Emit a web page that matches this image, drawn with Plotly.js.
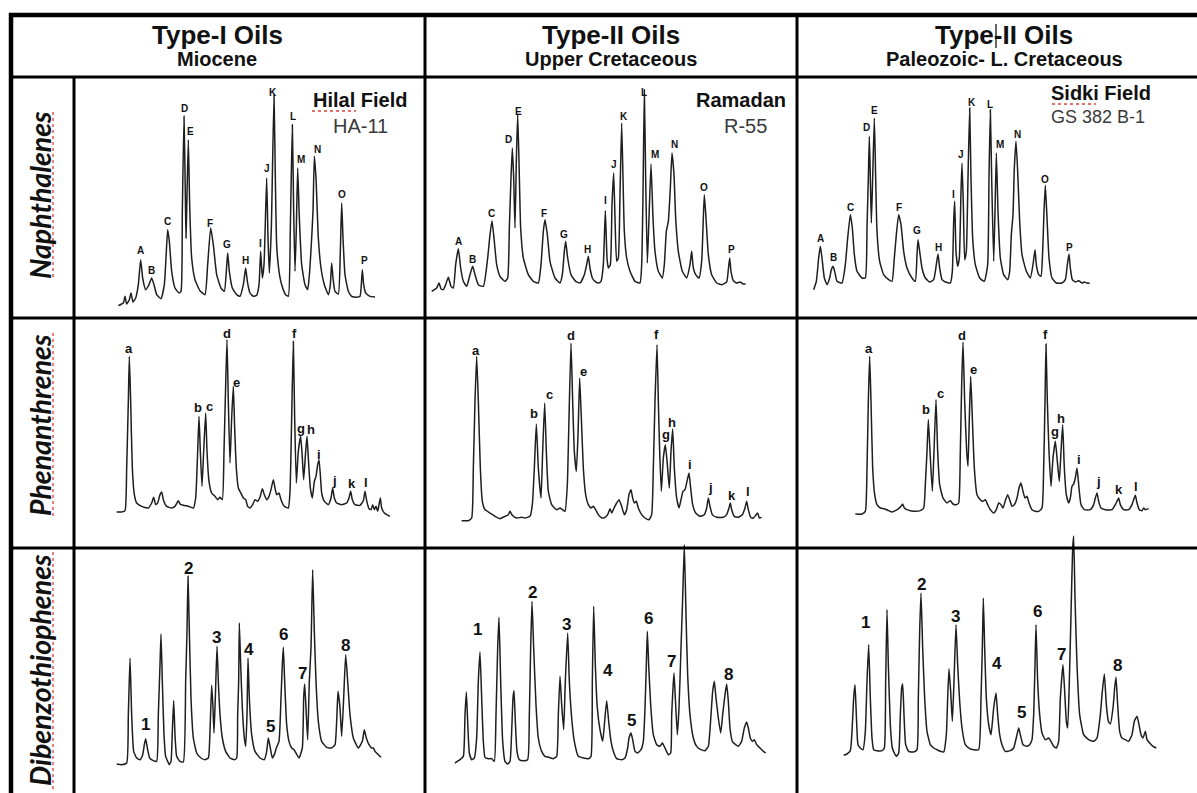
<!DOCTYPE html>
<html><head><meta charset="utf-8">
<script src="https://cdn.plot.ly/plotly-3.0.1.min.js"></script>
<style>html,body{margin:0;padding:0;background:#fff}#chart{width:1197px;height:793px}</style>
</head><body><div id="chart"></div>
<script>
// ---------- DATA (retention units, relative abundance) ----------
const colHeads = ['Type-I Oils', 'Type-II Oils', 'Type-II Oils'];
const colSubs = ['Miocene', 'Upper Cretaceous', 'Paleozoic- L. Cretaceous'];
const rowNames = ['Naphthalenes', 'Phenanthrenes', 'Dibenzothiophenes'];
const wellField = ['Hilal Field', 'Ramadan', 'Sidki Field'];
const wellName = ['HA-11', 'R-55', 'GS 382 B-1'];

const naphLabels = ['A','B','C','D','E','F','G','H','I','J','K','L','M','N','O','P'];
const phenLabels = ['a','b','c','d','e','f','g','h','i','j','k','l'];
const dbtLabels = ['1','2','3','4','5','6','7','8'];

const naph1 = [[130,7],[145,15],[150,35],[155,12],[163,25],[168,45],[174,18],[182,30],[190,70],[197,145],[203,90],[212,55],[222,70],[230,90],[237,70],[245,40],[258,28],[268,70],[274,170],[278,235],[283,200],[290,110],[300,60],[312,45],[318,50],[322,290],[327,575],[331,340],[333,210],[336,340],[340,505],[344,310],[350,150],[360,85],[375,52],[390,40],[398,130],[407,240],[415,190],[425,100],[438,60],[448,50],[454,110],[458,165],[463,110],[472,60],[485,40],[495,35],[505,70],[512,120],[517,80],[525,45],[535,35],[545,38],[552,70],[557,170],[562,90],[567,130],[575,390],[579,210],[583,105],[589,240],[597,640],[601,390],[605,190],[612,110],[620,70],[632,40],[640,35],[646,240],[652,550],[656,290],[660,110],[664,240],[668,420],[673,270],[680,130],[690,70],[698,55],[704,110],[710,210],[714,290],[718,455],[723,390],[730,210],[738,120],[748,70],[760,40],[766,70],[770,135],[774,90],[780,50],[790,42],[796,170],[800,315],[804,210],[810,100],[820,50],[830,35],[845,32],[855,35],[859,70],[862,115],[866,70],[872,45],[885,35],[900,33]];
const naph1Peaks = [[197,172],[230,112],[278,260],[327,598],[345,530],[405,255],[455,190],[512,142],[557,195],[575,420],[595,648],[655,575],[678,445],[727,477],[800,342],[868,142]];

const naph2 = [[20,10],[35,20],[42,35],[48,18],[55,15],[62,30],[70,52],[78,25],[85,20],[92,90],[100,138],[107,80],[115,40],[125,25],[135,60],[143,85],[150,60],[160,30],[175,25],[188,110],[195,180],[201,222],[207,170],[215,90],[225,55],[240,40],[248,50],[253,200],[258,350],[262,440],[266,350],[270,200],[274,400],[278,542],[282,400],[287,200],[295,110],[310,60],[325,40],[340,35],[348,90],[355,190],[360,225],[367,180],[375,100],[390,50],[405,35],[412,60],[418,130],[422,160],[428,110],[438,60],[452,40],[465,35],[478,60],[485,90],[490,115],[495,80],[502,50],[510,40],[520,35],[528,40],[535,90],[541,252],[546,110],[550,80],[556,90],[561,270],[566,365],[570,230],[575,100],[580,110],[585,300],[590,515],[594,350],[598,190],[605,110],[615,70],[630,40],[645,35],[650,90],[654,300],[658,615],[662,350],[667,95],[672,230],[678,392],[684,230],[690,130],[700,70],[712,50],[718,90],[724,190],[730,220],[736,320],[741,425],[747,360],[752,230],[760,130],[772,70],[785,50],[795,90],[800,130],[805,80],[812,60],[822,50],[830,100],[835,230],[838,300],[843,230],[850,120],[860,60],[875,35],[890,30],[905,38],[910,75],[914,110],[918,70],[925,42],[935,35],[945,38],[955,32],[962,32]];
const naph2Peaks = [[100,160],[143,105],[200,245],[250,465],[281,550],[358,245],[418,180],[487,135],[540,282],[566,392],[598,535],[657,608],[690,422],[748,450],[838,322],[918,135]];

const naph3 = [[50,5],[58,30],[65,100],[70,135],[75,100],[82,40],[90,20],[98,40],[103,65],[108,75],[113,60],[120,30],[135,25],[145,80],[152,160],[160,230],[166,190],[172,110],[180,60],[195,40],[205,40],[210,190],[214,340],[217,465],[220,340],[223,205],[227,340],[232,520],[236,340],[240,180],[248,90],[260,50],[275,35],[285,30],[292,100],[298,170],[305,230],[312,200],[320,120],[330,70],[345,40],[355,30],[360,110],[363,155],[368,120],[375,70],[385,40],[398,28],[410,35],[418,80],[423,112],[428,70],[435,35],[445,28],[460,25],[466,60],[470,210],[473,270],[477,120],[482,75],[487,100],[492,300],[495,385],[499,260],[503,95],[508,120],[513,340],[518,550],[522,340],[527,160],[535,80],[548,40],[562,30],[572,80],[576,340],[580,545],[584,340],[590,90],[594,240],[598,415],[603,240],[610,100],[620,50],[632,35],[638,60],[643,170],[648,230],[652,370],[657,450],[662,360],[668,210],[675,110],[688,60],[700,40],[708,80],[714,125],[718,80],[725,50],[732,45],[737,120],[741,240],[745,318],[750,220],[756,100],[765,40],[778,25],[795,25],[805,35],[811,80],[816,112],[820,70],[826,35],[835,28],[845,32],[855,25],[862,28],[870,25],[878,24]];
const naph3Peaks = [[70,160],[108,102],[160,252],[207,492],[232,542],[305,252],[360,182],[423,132],[470,292],[493,412],[525,568],[580,560],[610,442],[662,472],[745,335],[818,132]];

const phen1 = [[125,18],[140,18],[150,22],[155,150],[160,350],[163,485],[167,350],[172,150],[178,70],[185,45],[200,35],[220,30],[230,45],[236,62],[242,40],[248,45],[255,70],[260,78],[265,55],[275,35],[290,30],[300,35],[310,52],[315,42],[325,38],[340,35],[355,30],[362,60],[368,200],[372,305],[376,200],[381,95],[386,200],[392,315],[396,200],[402,110],[410,75],[420,65],[428,55],[435,62],[442,55],[447,200],[452,400],[456,535],[460,350],[465,165],[470,300],[475,395],[479,270],[484,150],[490,90],[500,70],[505,60],[512,55],[518,35],[525,30],[533,40],[540,55],[548,50],[555,62],[562,88],[568,70],[575,55],[582,65],[588,85],[595,115],[600,90],[605,70],[612,75],[618,55],[628,35],[640,30],[645,80],[650,300],[655,530],[659,300],[664,105],[670,200],[677,245],[682,180],[686,115],[692,200],[696,245],[700,180],[706,90],[712,60],[718,110],[723,125],[728,160],[732,175],[736,130],[740,75],[748,50],[760,40],[768,60],[773,90],[778,60],[785,45],[800,40],[815,45],[822,60],[827,80],[832,55],[840,40],[855,38],[865,52],[870,80],[875,52],[882,28],[888,25],[893,40],[898,25],[903,35],[908,20],[912,40],[916,60],[920,30],[928,15],[935,10],[945,5]];
const phen1Peaks = [[162,508],[368,332],[403,335],[457,555],[483,408],[657,555],[678,270],[707,265],[733,192],[778,113],[830,103],[872,108]];

const phen2 = [[110,12],[130,12],[140,20],[145,170],[150,370],[155,505],[160,370],[166,170],[172,70],[180,45],[195,35],[210,25],[225,18],[240,25],[250,30],[255,40],[262,28],[275,20],[290,22],[300,20],[315,25],[322,60],[328,170],[334,302],[340,170],[348,80],[353,220],[359,365],[364,220],[370,100],[380,60],[395,45],[405,50],[412,45],[420,40],[427,120],[432,320],[438,545],[443,370],[448,220],[454,160],[459,270],[464,440],[469,320],[475,170],[482,90],[490,60],[498,50],[505,55],[512,45],[520,30],[530,20],[540,22],[548,30],[555,48],[560,35],[567,50],[575,65],[582,75],[590,55],[598,30],[605,45],[612,90],[618,105],[623,80],[628,65],[634,70],[640,50],[650,30],[660,20],[672,15],[680,30],[685,170],[690,370],[696,540],[700,370],[704,220],[709,100],[715,200],[721,240],[727,180],[733,110],[738,220],[743,287],[748,170],[755,80],[762,50],[768,75],[774,100],[780,105],[786,130],[792,155],[797,110],[803,60],[812,35],[825,25],[838,30],[845,50],[850,80],[855,55],[862,30],[875,22],[895,22],[905,30],[912,50],[916,65],[920,45],[928,25],[940,22],[952,30],[960,50],[965,70],[970,45],[977,22],[985,20],[992,28],[998,35],[1003,20],[1010,22]];
const phen2Peaks = [[153,522],[328,335],[372,390],[438,568],[475,460],[695,572],[722,270],[742,308],[795,180],[855,112],[920,87],[970,100]];

const phen3 = [[175,12],[195,12],[205,20],[210,150],[214,350],[218,485],[222,350],[227,150],[233,70],[240,40],[250,30],[262,28],[275,22],[285,18],[295,22],[305,28],[312,35],[317,42],[322,30],[330,25],[340,22],[355,20],[370,22],[380,30],[385,100],[390,200],[394,295],[399,200],[406,80],[411,200],[417,355],[422,200],[428,100],[438,60],[450,45],[460,52],[468,42],[478,40],[485,45],[490,200],[494,400],[498,528],[503,350],[509,200],[513,155],[517,300],[521,425],[526,300],[532,150],[540,70],[550,55],[558,50],[565,55],[572,40],[580,25],[590,15],[598,25],[605,45],[612,40],[618,30],[625,52],[632,70],[638,55],[645,35],[652,40],[660,60],[666,90],[672,105],[678,80],[684,60],[690,65],[696,45],[705,25],[715,20],[725,20],[735,30],[740,150],[744,350],[747,522],[751,350],[756,200],[762,95],[768,180],[775,230],[781,170],[787,110],[792,200],[797,280],[802,150],[808,70],[815,45],[820,60],[825,95],[830,102],[835,120],[840,150],[846,90],[852,40],[862,25],[880,25],[890,40],[895,60],[900,75],[905,50],[912,30],[925,25],[945,25],[955,40],[960,50],[965,60],[970,40],[980,25],[995,25],[1005,40],[1010,55],[1015,68],[1020,45],[1027,25],[1035,22],[1040,30],[1045,25],[1055,28]];
const phen3Peaks = [[215,508],[387,325],[430,375],[495,548],[530,445],[745,550],[775,260],[792,300],[845,175],[903,110],[967,85],[1017,95]];

const dbt1 = [[125,12],[140,10],[155,15],[160,160],[165,330],[170,160],[176,50],[185,30],[195,25],[203,40],[208,70],[212,88],[217,60],[224,30],[235,22],[245,20],[250,160],[255,310],[258,402],[262,260],[267,100],[272,35],[278,20],[283,10],[288,20],[292,110],[296,202],[300,100],[305,35],[315,20],[325,18],[332,260],[336,410],[339,575],[343,410],[348,210],[355,90],[365,45],[378,30],[390,25],[400,30],[405,110],[410,248],[414,180],[417,105],[421,210],[426,365],[430,260],[435,160],[442,90],[452,50],[465,30],[478,25],[485,30],[488,160],[491,260],[493,435],[497,310],[502,180],[508,90],[512,65],[516,160],[519,330],[523,210],[530,100],[540,50],[555,30],[568,25],[575,50],[580,90],[586,60],[592,30],[598,40],[604,60],[612,80],[618,210],[622,310],[625,362],[629,260],[635,130],[642,80],[650,60],[657,55],[663,45],[672,30],[682,60],[686,210],[689,252],[693,180],[698,85],[703,260],[708,360],[713,595],[718,410],[723,260],[730,140],[740,80],[755,62],[770,60],[780,70],[785,140],[789,230],[795,180],[800,95],[806,210],[812,340],[818,260],[825,160],[835,90],[850,60],[862,80],[868,115],[874,90],[882,70],[890,60],[895,60],[900,50],[910,40],[918,32]];
const dbt1Peaks = [[210,130],[340,598],[425,392],[522,355],[585,125],[625,402],[683,285],[812,368]];

const dbt2 = [[90,15],[105,25],[115,35],[120,160],[124,228],[128,140],[133,45],[140,25],[148,30],[155,90],[160,260],[165,348],[170,210],[175,80],[180,32],[190,28],[200,28],[208,20],[213,160],[218,360],[222,452],[227,260],[233,80],[240,20],[248,12],[255,20],[260,110],[264,210],[267,232],[271,140],[276,50],[283,25],[295,22],[308,25],[313,160],[317,360],[321,500],[326,360],[333,190],[340,90],[350,50],[360,35],[372,32],[385,28],[395,35],[400,160],[405,275],[410,190],[416,115],[421,260],[428,405],[433,260],[440,150],[448,80],[460,35],[475,30],[490,28],[498,35],[502,260],[506,485],[511,310],[517,180],[525,115],[533,80],[539,140],[545,202],[551,140],[558,80],[565,50],[575,28],[590,25],[600,30],[608,60],[612,90],[618,105],[623,85],[630,50],[638,45],[648,55],[655,80],[660,180],[664,310],[667,410],[671,310],[677,190],[685,100],[695,70],[705,65],[712,75],[720,60],[730,40],[737,45],[740,160],[744,240],[747,285],[751,210],[757,100],[762,180],[768,360],[773,510],[778,670],[783,460],[788,280],[795,160],[805,90],[815,65],[828,55],[840,52],[850,65],[858,160],[863,230],[868,260],[873,210],[880,150],[887,105],[893,160],[900,220],[905,252],[910,200],[915,120],[922,80],[932,70],[940,65],[950,80],[958,120],[965,138],[970,120],[976,90],[982,80],[988,85],[995,70],[1005,60],[1015,50],[1022,45]];
const dbt2Peaks = [[158,415],[322,528],[425,432],[548,292],[618,142],[670,448],[740,320],[910,282]];

const dbt3 = [[140,18],[150,22],[160,32],[165,90],[170,190],[174,230],[178,140],[183,50],[190,40],[198,35],[205,90],[210,240],[215,350],[220,190],[225,70],[230,35],[240,32],[255,32],[262,40],[266,240],[270,455],[274,290],[280,110],[286,40],[292,25],[298,15],[305,25],[310,140],[314,220],[317,232],[321,140],[326,50],[335,30],[350,28],[360,35],[364,190],[368,390],[372,505],[377,340],[383,190],[390,90],[400,50],[410,40],[420,35],[430,30],[440,28],[448,80],[452,190],[456,278],[461,210],[466,120],[471,240],[477,410],[482,290],[488,180],[495,100],[505,50],[518,38],[530,35],[545,35],[552,190],[556,340],[559,490],[563,340],[568,190],[575,110],[582,80],[590,160],[597,205],[602,140],[608,80],[615,50],[625,30],[640,32],[650,40],[660,80],[665,100],[670,80],[678,50],[688,45],[698,50],[705,65],[710,140],[714,290],[717,410],[722,240],[728,140],[735,85],[745,65],[755,70],[762,60],[770,45],[778,40],[785,60],[790,190],[795,260],[798,290],[803,210],[808,120],[812,100],[817,240],[822,440],[827,640],[830,676],[834,490],[840,290],[848,140],[860,80],[875,65],[890,60],[900,70],[910,140],[916,210],[922,262],[928,170],[934,120],[940,112],[948,160],[953,220],[957,252],[962,170],[968,90],[975,70],[985,65],[995,60],[1005,80],[1012,120],[1020,135],[1026,110],[1032,80],[1038,70],[1045,90],[1050,65],[1058,55],[1068,45],[1078,40]];
const dbt3Peaks = [[205,418],[372,532],[475,435],[600,295],[672,148],[720,450],[793,322],[962,288]];

// ---------- LAYOUT ----------
const W = 1197, H = 793;
const px = x => x / W, py = y => 1 - y / H;
const FONT = 'Liberation Sans, Arial, sans-serif';

const panels = [
  {data: naph1, peaks: naph1Peaks, labels: naphLabels, box: [75, 78, 350, 240], base: 690, fs: 10, ext: 0},
  {data: naph2, peaks: naph2Peaks, labels: naphLabels, box: [425, 78, 372, 240], base: 650, fs: 10, ext: 0},
  {data: naph3, peaks: naph3Peaks, labels: naphLabels, box: [797, 78, 400, 240], base: 640, fs: 10, ext: 0},
  {data: phen1, peaks: phen1Peaks, labels: phenLabels, box: [75, 318, 350, 230], base: 600, fs: 13, ext: 0},
  {data: phen2, peaks: phen2Peaks, labels: phenLabels, box: [425, 318, 372, 230], base: 620, fs: 13, ext: 0},
  {data: phen3, peaks: phen3Peaks, labels: phenLabels, box: [797, 318, 400, 230], base: 600, fs: 13, ext: 0},
  {data: dbt1, peaks: dbt1Peaks, labels: dbtLabels, box: [75, 548, 350, 245], base: 660, fs: 17, ext: 16},
  {data: dbt2, peaks: dbt2Peaks, labels: dbtLabels, box: [425, 548, 372, 245], base: 660, fs: 17, ext: 16},
  {data: dbt3, peaks: dbt3Peaks, labels: dbtLabels, box: [797, 548, 400, 245], base: 640, fs: 17, ext: 16}
];

const traces = [], annotations = [], shapes = [];
const layout = {
  width: W, height: H, margin: {l: 0, r: 0, t: 0, b: 0},
  paper_bgcolor: '#ffffff', plot_bgcolor: 'rgba(0,0,0,0)', showlegend: false,
  font: {family: FONT, color: '#111'}
};

panels.forEach((p, i) => {
  const s = i === 0 ? '' : String(i + 1);
  const [bx, by, bw, bh] = p.box;
  traces.push({
    type: 'scatter', mode: 'lines',
    x: p.data.map(d => d[0]), y: p.data.map(d => d[1]),
    xaxis: 'x' + s, yaxis: 'y' + s,
    line: {color: '#1e1e1e', width: 1.5, shape: 'spline', smoothing: 0.45},
    hoverinfo: 'skip'
  });
  layout['xaxis' + s] = {domain: [px(bx), px(bx + bw)], range: [0, 3 * bw], visible: false, fixedrange: true, anchor: 'y' + s};
  layout['yaxis' + s] = {domain: [py(by + bh), py(by - p.ext)], range: [p.base - 3 * bh, p.base + 3 * p.ext], visible: false, fixedrange: true, anchor: 'x' + s};
  p.peaks.forEach((pk, j) => annotations.push({
    xref: 'x' + s, yref: 'y' + s, x: pk[0], y: pk[1], text: p.labels[j], showarrow: false,
    xanchor: 'center', yanchor: 'middle',
    font: {family: FONT, size: p.fs, color: '#111', weight: 'bold'}
  }));
});

// column headers
const colCenters = [217, 611, 1004];
colHeads.forEach((t, i) => {
  annotations.push({xref: 'paper', yref: 'paper', x: px(colCenters[i]), y: py(35), text: t, showarrow: false,
    xanchor: 'center', yanchor: 'middle', font: {family: FONT, size: 26, color: '#111', weight: 'bold'}});
  annotations.push({xref: 'paper', yref: 'paper', x: px(colCenters[i]), y: py(59), text: colSubs[i], showarrow: false,
    xanchor: 'center', yanchor: 'middle', font: {family: FONT, size: 20, color: '#111', weight: 'bold'}});
});

// row labels
const rowCenters = [195, 425, 670];
rowNames.forEach((t, i) => {
  annotations.push({xref: 'paper', yref: 'paper', x: px(40), y: py(rowCenters[i]), text: t, showarrow: false,
    textangle: -90, xanchor: 'center', yanchor: 'middle',
    font: {family: 'Lato, Liberation Sans, sans-serif', size: 28.5, color: '#111', weight: 'bold', style: 'italic'}});
});

// well names
const wellPos = [[360, 100, 360, 126], [741, 100, 745, 126], [1101, 93, 1098, 117]];
wellField.forEach((t, i) => {
  const w = wellPos[i];
  annotations.push({xref: 'paper', yref: 'paper', x: px(w[0]), y: py(w[1]), text: t, showarrow: false,
    xanchor: 'center', yanchor: 'middle', font: {family: FONT, size: 20, color: '#111', weight: 'bold'}});
  annotations.push({xref: 'paper', yref: 'paper', x: px(w[2]), y: py(w[3]), text: wellName[i], showarrow: false,
    xanchor: 'center', yanchor: 'middle', font: {family: FONT, size: i === 2 ? 18 : 20, color: '#3a3a3a'}});
});

// table grid
function seg(x0, y0, x1, y1, w, c, dash) {
  shapes.push({type: 'line', xref: 'paper', yref: 'paper', x0: px(x0), y0: py(y0), x1: px(x1), y1: py(y1),
    line: {color: c || '#000', width: w, dash: dash || 'solid'}, layer: 'above'});
}
seg(9, 15, 1197, 15, 4.5);
seg(11, 13, 11, 793, 4.5);
seg(10, 77, 1197, 77, 3);
seg(425, 15, 425, 793, 3);
seg(797, 15, 797, 793, 3);
seg(74, 77, 74, 793, 3);
seg(10, 318, 1197, 318, 3);
seg(10, 548, 1197, 548, 3);
// text cursor mark in third header
seg(996, 24, 996, 48, 1.2);
// spell-check underlines
seg(312, 111, 356, 111, 1.3, '#e0403a', 'dot');
seg(1052, 104, 1096, 104, 1.3, '#e0403a', 'dot');
seg(53, 112, 53, 279, 1.3, '#e0403a', 'dot');
seg(53, 333, 53, 518, 1.3, '#e0403a', 'dot');
seg(53, 552, 53, 790, 1.3, '#e0403a', 'dot');

layout.annotations = annotations;
layout.shapes = shapes;

Plotly.newPlot('chart', traces, layout, {displayModeBar: false, staticPlot: true});
</script></body></html>
